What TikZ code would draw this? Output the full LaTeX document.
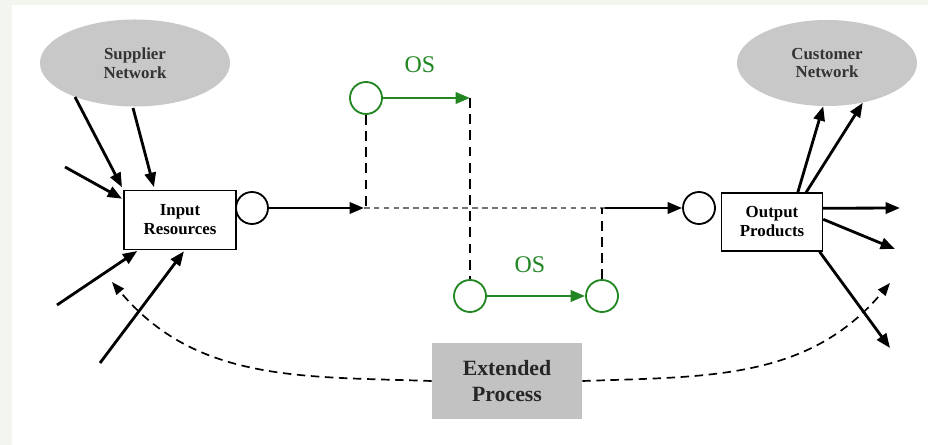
\documentclass[tikz,border=0pt]{standalone}
\usepackage{fontspec}
\setmainfont{Liberation Serif}
\usetikzlibrary{arrows.meta,shapes.geometric}
\definecolor{osgreen}{RGB}{34,134,34}
\definecolor{netgray}{RGB}{200,200,200}
\definecolor{procgray}{RGB}{194,194,194}
\definecolor{pagetint}{RGB}{243,245,239}

\begin{document}
\begin{tikzpicture}[x=0.025cm,y=-0.025cm,
    net/.style={ellipse,fill=netgray,text=black!80,font=\fontsize{12}{13.5}\selectfont\bfseries,align=center,inner sep=0pt},
    res/.style={draw,line width=1pt,fill=white,font=\fontsize{12}{13.5}\selectfont\bfseries,align=center,inner sep=0pt},
    buf/.style={circle,draw,line width=1.3pt,fill=white,minimum size=0.8cm,inner sep=0pt},
    osbuf/.style={buf,draw=osgreen},
    oslabel/.style={text=osgreen,font=\fontsize{17}{19}\selectfont},
    flow/.style={-{Triangle[length=3.6mm,width=2.8mm]},line width=2pt},
    osflow/.style={flow,draw=osgreen,fill=osgreen},
    vdash/.style={line width=1.5pt,dash pattern=on 7pt off 4.5pt},
    hdash/.style={black!55,line width=0.8pt,dash pattern=on 4pt off 3pt},
    loopback/.style={-{Triangle[length=3.2mm,width=2.4mm]},line width=1.2pt,dash pattern=on 6pt off 4pt}]

    % Page
    \fill[pagetint] (0,0) rectangle (928,445);
    \fill[white] (12,5) rectangle (928,445);

    % Networks
    \node[net,minimum width=4.75cm,minimum height=2.175cm] (supplier) at (135,63) {Supplier\\Network};
    \node[net,minimum width=4.5cm,minimum height=2.15cm] (customer) at (827,63) {Customer\\Network};

    % Extended process and its feedback
    \node[fill=procgray,minimum width=3.75cm,minimum height=1.9cm,align=center,
          text=black!85,font=\fontsize{15.5}{19}\selectfont\bfseries] (ext) at (507,381) {Extended\\Process};
    \coordinate (fbin) at (112,282);
    \coordinate (fbout) at (890,283);
    \draw[loopback] (ext.west) to[out=178,in=-50] (fbin);
    \draw[loopback] (ext.east) to[out=2,in=-130] (fbout);

    % Resources and products
    \node[res,minimum width=2.8cm,minimum height=1.475cm] (input) at (180,220) {Input\\Resources};
    \node[res,minimum width=2.525cm,minimum height=1.45cm] (output) at (772,222) {Output\\Products};
    \node[buf] (inbuf) at (252,208) {};
    \node[buf] (outbuf) at (699,208) {};

    % Incoming arrows
    \coordinate (in1) at (75,97);
    \coordinate (in2) at (133,108);
    \coordinate (in3) at (65,167);
    \coordinate (in4) at (57,305);
    \coordinate (in5) at (100,363);
    \draw[flow,shorten >=2pt] (in1) -- (input.north west);
    \draw[flow,shorten >=2pt] (in2) -- (input.130);
    \draw[flow,shorten >=1pt] (in3) -- (input.160);
    \draw[flow,shorten >=1pt] (in4) -- (input.216);
    \draw[flow,shorten >=1pt] (in5) -- (input.-81);

    % Outgoing arrows
    \coordinate (out1) at (900,208);
    \coordinate (out2) at (895,249);
    \coordinate (out3) at (890,348);
    \draw[flow] (output.49) -- (customer.265);
    \draw[flow] (output.41) -- (customer.312);
    \draw[flow] (output.15) -- (out1);
    \draw[flow] (output.3) -- (out2);
    \draw[flow] (output.-32) -- (out3);

    % Main line
    \coordinate (split) at (364,208);
    \coordinate (join) at (605,208);
    \draw[flow] (inbuf) -- (split);
    \draw[hdash] (split) -- (join);
    \draw[flow] (join) -- (outbuf);

    % OS branches
    \node[osbuf] (os1) at (366,98) {};
    \node[osbuf] (os2a) at (470,296) {};
    \node[osbuf] (os2b) at (602,296) {};
    \coordinate (os1end) at (470,98);
    \node[oslabel] (os1lbl) at (420,65) {OS};
    \node[oslabel] (os2lbl) at (530,265) {OS};
    \draw[osflow] (os1) -- (os1end);
    \draw[osflow] (os2a) -- (os2b);
    \draw[vdash] (os1.south) -- (os1.south |- split);
    \draw[vdash] (os1end) -- (os2a.north);
    \draw[vdash] (os2b.north) -- (os2b.north |- join);
\end{tikzpicture}
\end{document}
